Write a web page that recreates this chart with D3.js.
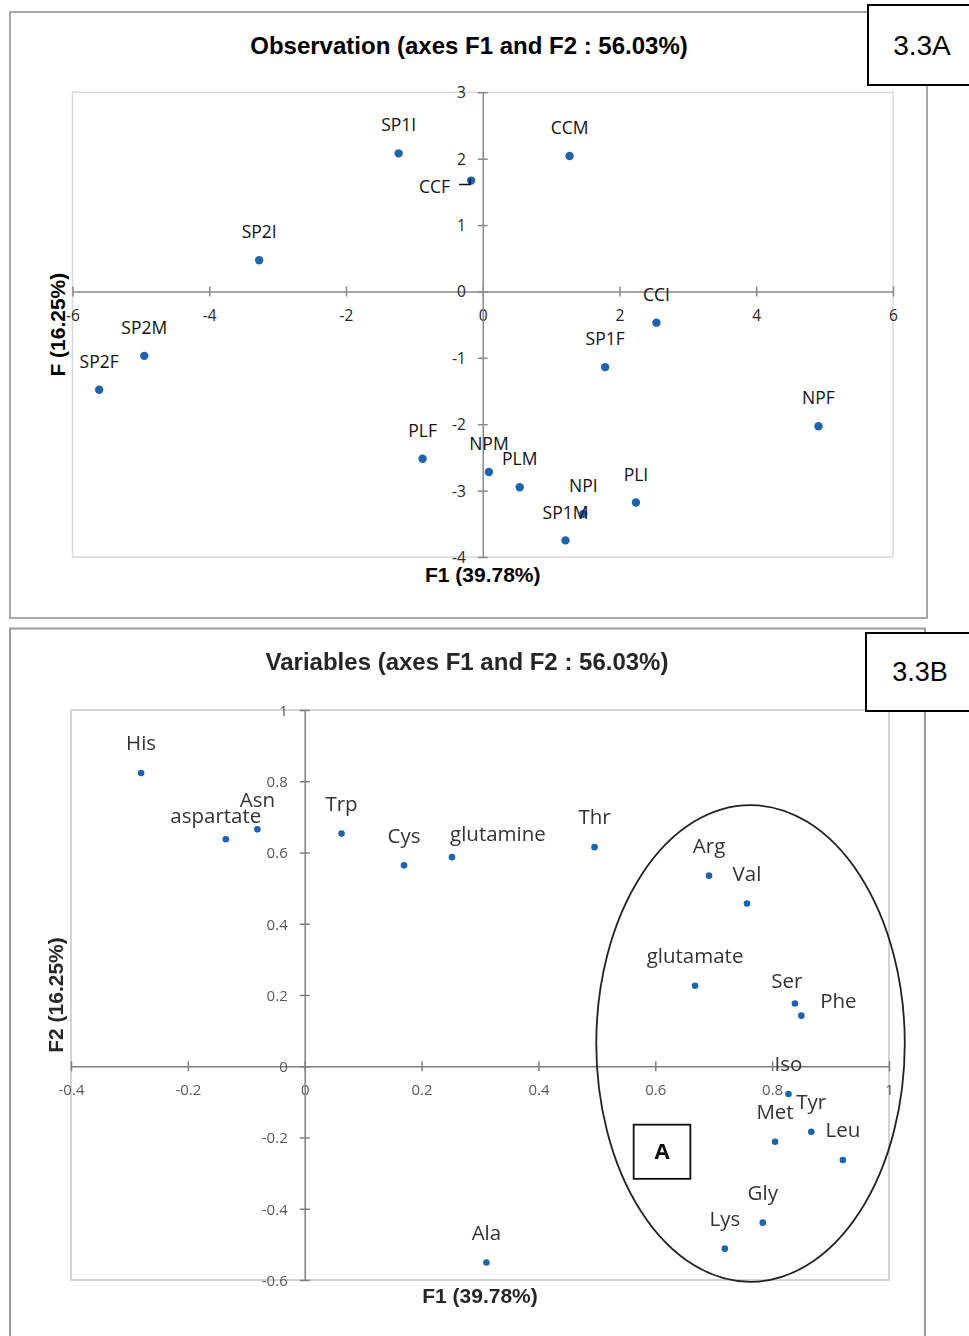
<!DOCTYPE html>
<html>
<head>
<meta charset="utf-8">
<script src="https://cdn.jsdelivr.net/npm/d3@7/dist/d3.min.js"></script>
<style>
  body { margin: 0; background: #fff; }
  svg { display: block; }
</style>
</head>
<body>
<svg id="fig" width="969" height="1336"></svg>
<script>
// ---- Observations: PCA scores on F1 / F2 ----
const obsNames = ["SP1I", "CCM", "CCF", "SP2I", "SP2M", "SP2F", "CCI", "SP1F", "NPF", "PLF", "NPM", "PLM", "NPI", "PLI", "SP1M"];
const obsF1 = [-1.23, 1.27, -0.17, -3.27, -4.95, -5.61, 2.54, 1.79, 4.91, -0.88, 0.09, 0.54, 1.47, 2.24, 1.21];
const obsF2 = [2.08, 2.04, 1.67, 0.47, -0.97, -1.48, -0.47, -1.14, -2.03, -2.52, -2.72, -2.95, -3.35, -3.18, -3.75];
const obsTicksX = [-6, -4, -2, 0, 2, 4, 6];
const obsTicksY = [-4, -3, -2, -1, 0, 1, 2, 3];

// ---- Variables: loadings on F1 / F2 ----
const varNames = ["His", "aspartate", "Asn", "Trp", "Cys", "glutamine", "Thr", "Arg", "Val", "glutamate", "Ser", "Phe", "Iso", "Tyr", "Met", "Leu", "Gly", "Lys", "Ala"];
const varF1 = [-0.280, -0.135, -0.081, 0.063, 0.170, 0.252, 0.496, 0.692, 0.757, 0.668, 0.839, 0.850, 0.828, 0.867, 0.805, 0.921, 0.784, 0.719, 0.311];
const varF2 = [0.823, 0.637, 0.665, 0.653, 0.564, 0.587, 0.615, 0.535, 0.457, 0.226, 0.176, 0.142, -0.078, -0.184, -0.212, -0.263, -0.439, -0.512, -0.551];
const varTicksX = [-0.4, -0.2, 0, 0.2, 0.4, 0.6, 0.8, 1];
const varTicksY = [-0.6, -0.4, -0.2, 0, 0.2, 0.4, 0.6, 0.8, 1];

const titleObs = "Observation (axes F1 and F2 : 56.03%)";
const titleVar = "Variables (axes F1 and F2 : 56.03%)";
const axisF1 = "F1 (39.78%)";
const axisF2obs = "F (16.25%)";
const axisF2var = "F2 (16.25%)";

const svg = d3.select("#fig");
const POINT = "#1f63b0";
const SANS = "'Open Sans', 'Noto Sans', sans-serif";
const ARIAL = "'Liberation Sans', Arial, sans-serif";

const defs = svg.append("defs");
defs.append("filter").attr("id", "soft")
  .attr("x", "-5%").attr("y", "-5%").attr("width", "110%").attr("height", "110%")
  .append("feGaussianBlur").attr("stdDeviation", 0.45);

// Axes through the origin with crossing tick marks
function originAxes(g, x, y, tx, ty, fmt, st) {
  const ax = g.append("g")
    .attr("transform", `translate(0,${y(0)})`)
    .call(d3.axisBottom(x).tickValues(tx).tickSizeInner(st.tick).tickSizeOuter(0).tickFormat(fmt));
  ax.select(".domain").attr("stroke", st.axis).attr("stroke-width", st.axisW);
  ax.selectAll(".tick line").attr("y1", -st.tick).attr("y2", st.tick).attr("stroke", st.axis).attr("stroke-width", st.axisW);
  ax.selectAll(".tick text").attr("y", st.xLabY).attr("dy", "0.35em")
    .attr("fill", st.label).style("font", `${st.fs}px ${SANS}`);

  const ay = g.append("g")
    .attr("transform", `translate(${x(0)},0)`)
    .call(d3.axisLeft(y).tickValues(ty).tickSizeInner(st.tick).tickSizeOuter(0).tickFormat(fmt));
  ay.select(".domain").attr("stroke", st.axis).attr("stroke-width", st.axisW);
  ay.selectAll(".tick line").attr("x1", -st.tick).attr("x2", st.tick).attr("stroke", st.axis).attr("stroke-width", st.axisW);
  ay.selectAll(".tick text").attr("x", -st.yLabX).attr("dy", "0.35em")
    .attr("fill", st.label).style("font", `${st.fs}px ${SANS}`);
}

// ================= Panel 3.3A : observations =================
{
  const g = svg.append("g");
  g.append("rect").attr("x", 10).attr("y", 12).attr("width", 917).attr("height", 606)
    .attr("fill", "none").attr("stroke", "#8c8c8c").attr("stroke-width", 1.5);

  const x = d3.scaleLinear().domain([-6, 6]).range([72.5, 893]);
  const y = d3.scaleLinear().domain([-4, 3]).range([557, 92.3]);

  g.append("rect").attr("x", x(-6)).attr("y", y(3))
    .attr("width", x(6) - x(-6)).attr("height", y(-4) - y(3))
    .attr("fill", "none").attr("stroke", "#d9d9d9").attr("stroke-width", 1.5);

  originAxes(g, x, y, obsTicksX, obsTicksY, d => String(d),
    { tick: 5, axis: "#8a8a8a", axisW: 1.5, xLabY: 24, yLabX: 17, label: "#262626", fs: 15.5 });

  g.append("text").attr("x", 469).attr("y", 46).attr("dy", "0.35em").attr("text-anchor", "middle")
    .style("font", `bold 24px ${ARIAL}`).attr("fill", "#000").text(titleObs);
  g.append("text").attr("x", x(0)).attr("y", 575).attr("dy", "0.35em").attr("text-anchor", "middle")
    .style("font", `bold 21px ${ARIAL}`).attr("fill", "#000").text(axisF1);
  g.append("text").attr("transform", `translate(58,${(y(3) + y(-4)) / 2}) rotate(-90)`)
    .attr("dy", "0.35em").attr("text-anchor", "middle")
    .style("font", `bold 21px ${ARIAL}`).attr("fill", "#000").text(axisF2obs);

  const obs = obsNames.map((n, i) => ({ n, f1: obsF1[i], f2: obsF2[i] }));
  g.selectAll("circle.obs").data(obs).join("circle").attr("class", "obs")
    .attr("cx", d => x(d.f1)).attr("cy", d => y(d.f2)).attr("r", 4.2).attr("fill", POINT);

  // CCF label sits to the left with a leader line
  const side = { CCF: true };
  g.selectAll("text.obs").data(obs).join("text").attr("class", "obs")
    .attr("x", d => side[d.n] ? x(d.f1) - 21 : x(d.f1))
    .attr("y", d => side[d.n] ? y(d.f2) + 6 : y(d.f2) - 28)
    .attr("dy", "0.35em")
    .attr("text-anchor", d => side[d.n] ? "end" : "middle")
    .style("font", `17.5px ${SANS}`).attr("fill", "#111").text(d => d.n);
  obs.filter(d => side[d.n]).forEach(d => {
    const px = x(d.f1), py = y(d.f2);
    g.append("path").attr("d", `M${px - 12},${py + 4}H${px - 1}V${py - 2}`)
      .attr("fill", "none").attr("stroke", "#111").attr("stroke-width", 1.5);
  });

  g.append("rect").attr("x", 868).attr("y", 5).attr("width", 110).attr("height", 80)
    .attr("fill", "#fff").attr("stroke", "#000").attr("stroke-width", 2);
  g.append("text").attr("x", 922).attr("y", 45).attr("dy", "0.35em").attr("text-anchor", "middle")
    .style("font", `28px ${ARIAL}`).attr("fill", "#000").text("3.3A");
}

// ================= Panel 3.3B : variables =================
{
  const g = svg.append("g").attr("filter", "url(#soft)");
  g.append("rect").attr("x", 10).attr("y", 628.5).attr("width", 915).attr("height", 720)
    .attr("fill", "none").attr("stroke", "#9a9a9a").attr("stroke-width", 2);

  const x = d3.scaleLinear().domain([-0.4, 1]).range([71, 889]);
  const y = d3.scaleLinear().domain([-0.6, 1]).range([1280, 710]);

  g.append("rect").attr("x", x(-0.4)).attr("y", y(1))
    .attr("width", x(1) - x(-0.4)).attr("height", y(-0.6) - y(1))
    .attr("fill", "none").attr("stroke", "#d4d4d4").attr("stroke-width", 2);

  originAxes(g, x, y, varTicksX, varTicksY, d => String(+d.toFixed(1)),
    { tick: 5, axis: "#7f7f7f", axisW: 1.5, xLabY: 23, yLabX: 17, label: "#595959", fs: 15 });

  g.append("text").attr("x", 467).attr("y", 662).attr("dy", "0.35em").attr("text-anchor", "middle")
    .style("font", `bold 24px ${ARIAL}`).attr("fill", "#262626").text(titleVar);
  g.append("text").attr("x", x(0.3)).attr("y", 1296).attr("dy", "0.35em").attr("text-anchor", "middle")
    .style("font", `bold 21px ${ARIAL}`).attr("fill", "#262626").text(axisF1);
  g.append("text").attr("transform", `translate(56,${(y(1) + y(-0.6)) / 2}) rotate(-90)`)
    .attr("dy", "0.35em").attr("text-anchor", "middle")
    .style("font", `bold 21px ${ARIAL}`).attr("fill", "#262626").text(axisF2var);

  const vars = varNames.map((n, i) => ({ n, f1: varF1[i], f2: varF2[i] }));
  g.selectAll("circle.var").data(vars).join("circle").attr("class", "var")
    .attr("cx", d => x(d.f1)).attr("cy", d => y(d.f2)).attr("r", 3.3).attr("fill", POINT);

  // label nudges (pixels) for crowded points; others sit centred above
  const nudge = { aspartate: [-10, 7], glutamine: [46, 7], Ser: [-8, 7], Phe: [37, 15] };
  g.selectAll("text.var").data(vars).join("text").attr("class", "var")
    .attr("x", d => x(d.f1) + (nudge[d.n] ? nudge[d.n][0] : 0))
    .attr("y", d => y(d.f2) - 30 + (nudge[d.n] ? nudge[d.n][1] : 0))
    .attr("dy", "0.35em").attr("text-anchor", "middle")
    .style("font", `20.5px ${SANS}`).attr("fill", "#333").text(d => d.n);

  // cluster A outline
  const cA = { f1: 0.763, f2: 0.064, r1: 0.264, r2: 0.669 };
  g.append("ellipse").attr("cx", x(cA.f1)).attr("cy", y(cA.f2))
    .attr("rx", x(cA.f1 + cA.r1) - x(cA.f1)).attr("ry", y(cA.f2 - cA.r2) - y(cA.f2))
    .attr("fill", "none").attr("stroke", "#222").attr("stroke-width", 1.8);
  const bA = { f1a: 0.563, f1b: 0.660, f2a: -0.164, f2b: -0.316 };
  g.append("rect").attr("x", x(bA.f1a)).attr("y", y(bA.f2a))
    .attr("width", x(bA.f1b) - x(bA.f1a)).attr("height", y(bA.f2b) - y(bA.f2a))
    .attr("fill", "#fff").attr("stroke", "#111").attr("stroke-width", 1.8);
  g.append("text").attr("x", (x(bA.f1a) + x(bA.f1b)) / 2).attr("y", (y(bA.f2a) + y(bA.f2b)) / 2)
    .attr("dy", "0.35em").attr("text-anchor", "middle")
    .style("font", `bold 22px ${SANS}`).attr("fill", "#111").text("A");

  svg.append("rect").attr("x", 866).attr("y", 633).attr("width", 110).attr("height", 78)
    .attr("fill", "#fff").attr("stroke", "#000").attr("stroke-width", 2);
  svg.append("text").attr("x", 920).attr("y", 672).attr("dy", "0.35em").attr("text-anchor", "middle")
    .style("font", `27px ${ARIAL}`).attr("fill", "#000").text("3.3B");
}
</script>
</body>
</html>
